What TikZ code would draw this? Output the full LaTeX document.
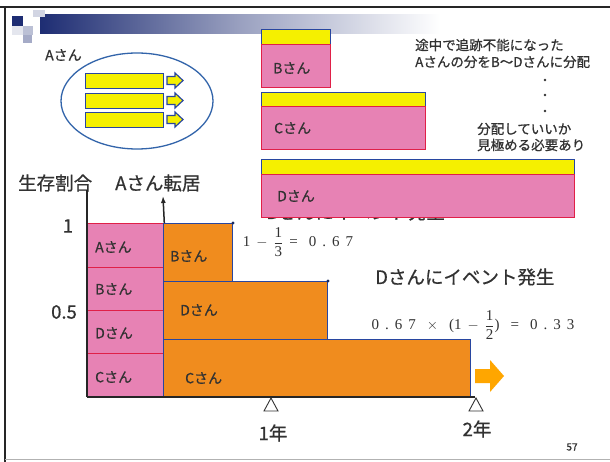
\documentclass[tikz,border=0pt]{standalone}
\usepackage{fontspec}
\usetikzlibrary{arrows.meta}
\setmainfont{Liberation Serif}
\newfontfamily\jp[FakeBold=0.7]{Noto Sans CJK JP}
\definecolor{pinkf}{RGB}{231,130,180}
\definecolor{pinkd}{RGB}{224,32,72}
\definecolor{yel}{RGB}{245,240,0}
\definecolor{blued}{RGB}{40,70,160}
\definecolor{orng}{RGB}{240,140,30}
\definecolor{ellb}{RGB}{50,100,170}
\definecolor{navy}{RGB}{30,45,115}
\definecolor{txt}{RGB}{50,50,50}
\newcommand{\gp}{\hspace{6pt}}
\newcommand{\gq}{\hspace{11pt}}
\tikzset{
  jpbig/.style={font=\jp\fontsize{18.5}{21}\selectfont, text=txt, inner sep=0pt},
  jpmid/.style={font=\jp\fontsize{14}{16}\selectfont, text=txt, inner sep=0pt},
  jpsmall/.style={font=\jp\fontsize{13.5}{15}\selectfont, text=txt, inner sep=0pt},
  formula/.style={font=\fontsize{15}{17}\selectfont, text=txt, inner sep=0pt},
  pinkbox/.style={draw=pinkd, fill=pinkf, line width=1.3pt, inner sep=0pt, anchor=north west},
  yelbox/.style={draw=blued, fill=yel, line width=1.2pt, inner sep=0pt, anchor=north west},
  orbox/.style={draw=blued, fill=orng, line width=1pt, inner sep=0pt, anchor=north west},
  smallarrow/.style={draw=blued, fill=yel, line width=1.2pt},
  tri/.style={draw=txt, fill=white, line width=0.9pt},
}
\begin{document}
\begin{tikzpicture}[x=1pt,y=-1pt]
\useasboundingbox (0,0) rectangle (610,462);
\fill[white] (0,0) rectangle (610,462);
% slide frame
\draw[line width=1.8pt, black!85] (0,7) -- (610,7);
\draw[line width=1.8pt, black!85] (5,7) -- (5,462);
\draw[line width=1pt, black!30] (5,459) -- (610,459);
% title bar
\shade[left color=navy, right color=white, middle color=navy!45!white] (40,15) rectangle (440,34);
\fill[navy] (12,16) rectangle (23,26);
\fill[navy!30] (23,26) rectangle (33,35);
\fill[navy!40] (23,35) rectangle (32,43);
\fill[navy!20] (33,10) rectangle (45,17);
\fill[navy!12] (12,26) rectangle (23,35);
% top-left ellipse with A
\node[jpmid, anchor=west] (alab) at (45,55) {Aさん};
\draw[ellb, line width=1.3pt] (137,101) ellipse [x radius=76, y radius=48];
\foreach \y/\n in {73/1,93/2,112/3}{
  \node[yelbox, minimum width=78pt, minimum height=15pt] (bar\n) at (85,\y) {};
  \draw[smallarrow] (167,\y+3.5) -- (175,\y+3.5) -- (175,\y) -- (183,\y+7.5) -- (175,\y+15) -- (175,\y+11.5) -- (167,\y+11.5) -- cycle;
}
% right boxes
\node[jpbig, anchor=west] (bevent) at (266,212) {Bさんにイベント発生};
\node[yelbox, minimum width=69pt, minimum height=15pt] (byel) at (261,29) {};
\node[pinkbox, minimum width=69pt, minimum height=43pt] (bpink) at (261,44) {};
\node[jpmid, anchor=west] (blab) at (273,68) {Bさん};
\node[yelbox, minimum width=164pt, minimum height=14pt] (cyel) at (261,92) {};
\node[pinkbox, minimum width=164pt, minimum height=43pt] (cpink) at (261,106) {};
\node[jpmid, anchor=west] (clab) at (274,128) {Cさん};
\node[yelbox, minimum width=313pt, minimum height=15pt] (dyel) at (261,159) {};
\node[pinkbox, minimum width=313pt, minimum height=43pt] (dpink) at (261,174) {};
\node[jpmid, anchor=west] (dlab) at (277,196) {Dさん};
% notes
\node[jpsmall, anchor=west] (n1) at (415,45) {途中で追跡不能になった};
\node[jpsmall, anchor=west] (n2) at (415,62) {Aさんの分をB〜Dさんに分配};
\foreach \y/\n in {80/1,95/2,111/3} \fill[txt] (545,\y) circle (1.3) coordinate (dot\n);
\node[jpsmall, anchor=west] (n3) at (477,129) {分配していいか};
\node[jpsmall, anchor=west] (n4) at (477,145) {見極める必要あり};
% chart labels
\node[jpbig, anchor=west] (ylab) at (18,183) {生存割合};
\node[jpbig, anchor=west] (mlab) at (115,183) {Aさん転居};
\node[jpbig] (one) at (68,226) {1};
\node[jpbig] (half) at (64,312) {0.5};
% pink stack
\node[pinkbox, minimum width=76pt, minimum height=44pt] (pa) at (87,223) {};
\node[pinkbox, minimum width=76pt, minimum height=43pt] (pb) at (87,267) {};
\node[pinkbox, minimum width=76pt, minimum height=43pt] (pd) at (87,310) {};
\node[pinkbox, minimum width=76pt, minimum height=44pt] (pc) at (87,353) {};
\node[jpmid, anchor=west] at (95,247) {Aさん};
\node[jpmid, anchor=west] at (95,289) {Bさん};
\node[jpmid, anchor=west] at (95,333) {Dさん};
\node[jpmid, anchor=west] at (95,377) {Cさん};
% orange steps
\node[orbox, minimum width=69pt, minimum height=58pt] (ob) at (163,223) {};
\node[orbox, minimum width=164pt, minimum height=58pt] (od) at (163,281) {};
\node[orbox, minimum width=307pt, minimum height=58pt] (oc) at (163,339) {};
\node[jpmid, anchor=west] at (170,256) {Bさん};
\node[jpmid, anchor=west] at (180,310) {Dさん};
\node[jpmid, anchor=west] at (185,378) {Cさん};
\fill[blued!60!black] (ob.north east) circle (1.6);
\fill[blued!60!black] (od.north east) circle (1.6);
% axes
\coordinate (ytop) at (87,190);
\coordinate (base0) at (87,397);
\coordinate (base1) at (475,397);
\coordinate (mtop) at (163,196);
\draw[line width=1.5pt, black!85] (ytop) -- (base0);
\draw[line width=2pt, black!85] (base0) -- (base1);
\draw[line width=1.5pt, black!85, -{Latex[length=7pt,width=5pt]}] (pa.north east) -- (mtop);
% triangles
\draw[tri] (271,398) -- (278,411) -- (264,411) -- cycle;
\draw[tri] (476,398) -- (483,411) -- (469,411) -- cycle;
\node[jpbig] (y1) at (273,433) {1年};
\node[jpbig] (y2) at (477,429) {2年};
% big arrow
\fill[orange!70!yellow] (475,369) -- (490,369) -- (490,360) -- (504,376) -- (490,392) -- (490,383) -- (475,383) -- cycle;
% formulas
\node[formula] (f1) at (298,242) {1\gp$-$\gp$\displaystyle\frac{\mbox{1}}{\mbox{3}}$\gp=\gq0\gp.\gp6\gp7};
\node[jpbig, anchor=west] (devent) at (375,277) {Dさんにイベント発生};
\node[formula] (f2) at (473,325) {0\gp.\gp6\gp7\gq$\times$\gq(1\gp$-$\gp$\displaystyle\frac{\mbox{1}}{\mbox{2}}$)\gq=\gq0\gp.\gp3\gp3};
\node[font=\jp\fontsize{10}{12}\selectfont, text=txt, inner sep=0pt] (pg) at (572,447) {57};
\end{tikzpicture}
\end{document}
